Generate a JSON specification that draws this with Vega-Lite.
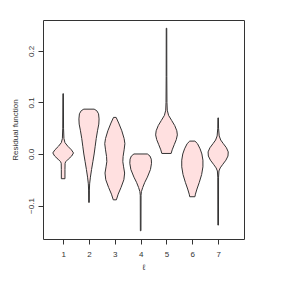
{
  "$schema": "https://vega.github.io/schema/vega-lite/v6.json",
  "autosize": {"type": "none"},
  "padding": {"left": 43, "top": 20, "right": 44, "bottom": 49},
  "width": 201,
  "height": 219,
  "config": {
    "view": {"stroke": "#333", "strokeWidth": 1},
    "font": "Liberation Sans"
  },
  "data": {
    "values": [
      {"g": 1, "v": 0.117, "lo": 0.99, "hi": 1.01},
      {"g": 1, "v": 0.05, "lo": 0.985, "hi": 1.015},
      {"g": 1, "v": 0.03, "lo": 0.97, "hi": 1.03},
      {"g": 1, "v": 0.022, "lo": 0.93, "hi": 1.07},
      {"g": 1, "v": 0.015, "lo": 0.82, "hi": 1.18},
      {"g": 1, "v": 0.008, "lo": 0.68, "hi": 1.32},
      {"g": 1, "v": 0.002, "lo": 0.6, "hi": 1.4},
      {"g": 1, "v": -0.004, "lo": 0.67, "hi": 1.33},
      {"g": 1, "v": -0.01, "lo": 0.8, "hi": 1.2},
      {"g": 1, "v": -0.015, "lo": 0.9, "hi": 1.1},
      {"g": 1, "v": -0.018, "lo": 0.925, "hi": 1.075},
      {"g": 1, "v": -0.03, "lo": 0.93, "hi": 1.07},
      {"g": 1, "v": -0.048, "lo": 0.93, "hi": 1.07},

      {"g": 2, "v": 0.087, "lo": 1.8, "hi": 2.2},
      {"g": 2, "v": 0.084, "lo": 1.7, "hi": 2.3},
      {"g": 2, "v": 0.078, "lo": 1.63, "hi": 2.37},
      {"g": 2, "v": 0.068, "lo": 1.61, "hi": 2.39},
      {"g": 2, "v": 0.058, "lo": 1.62, "hi": 2.38},
      {"g": 2, "v": 0.045, "lo": 1.67, "hi": 2.33},
      {"g": 2, "v": 0.03, "lo": 1.72, "hi": 2.28},
      {"g": 2, "v": 0.015, "lo": 1.76, "hi": 2.24},
      {"g": 2, "v": 0.0, "lo": 1.8, "hi": 2.2},
      {"g": 2, "v": -0.015, "lo": 1.85, "hi": 2.15},
      {"g": 2, "v": -0.03, "lo": 1.9, "hi": 2.1},
      {"g": 2, "v": -0.045, "lo": 1.945, "hi": 2.055},
      {"g": 2, "v": -0.058, "lo": 1.975, "hi": 2.025},
      {"g": 2, "v": -0.07, "lo": 1.985, "hi": 2.015},
      {"g": 2, "v": -0.094, "lo": 1.988, "hi": 2.012},

      {"g": 3, "v": 0.071, "lo": 2.95, "hi": 3.05},
      {"g": 3, "v": 0.06, "lo": 2.85, "hi": 3.15},
      {"g": 3, "v": 0.045, "lo": 2.73, "hi": 3.27},
      {"g": 3, "v": 0.03, "lo": 2.64, "hi": 3.36},
      {"g": 3, "v": 0.02, "lo": 2.61, "hi": 3.39},
      {"g": 3, "v": 0.008, "lo": 2.64, "hi": 3.36},
      {"g": 3, "v": -0.005, "lo": 2.68, "hi": 3.32},
      {"g": 3, "v": -0.015, "lo": 2.69, "hi": 3.31},
      {"g": 3, "v": -0.025, "lo": 2.66, "hi": 3.34},
      {"g": 3, "v": -0.037, "lo": 2.62, "hi": 3.38},
      {"g": 3, "v": -0.05, "lo": 2.65, "hi": 3.35},
      {"g": 3, "v": -0.065, "lo": 2.76, "hi": 3.24},
      {"g": 3, "v": -0.078, "lo": 2.87, "hi": 3.13},
      {"g": 3, "v": -0.089, "lo": 2.94, "hi": 3.06},

      {"g": 4, "v": 0.0, "lo": 3.74, "hi": 4.26},
      {"g": 4, "v": -0.004, "lo": 3.64, "hi": 4.36},
      {"g": 4, "v": -0.01, "lo": 3.59, "hi": 4.41},
      {"g": 4, "v": -0.018, "lo": 3.58, "hi": 4.42},
      {"g": 4, "v": -0.03, "lo": 3.62, "hi": 4.38},
      {"g": 4, "v": -0.045, "lo": 3.74, "hi": 4.26},
      {"g": 4, "v": -0.055, "lo": 3.84, "hi": 4.16},
      {"g": 4, "v": -0.065, "lo": 3.92, "hi": 4.08},
      {"g": 4, "v": -0.073, "lo": 3.97, "hi": 4.03},
      {"g": 4, "v": -0.08, "lo": 3.985, "hi": 4.015},
      {"g": 4, "v": -0.149, "lo": 3.988, "hi": 4.012},

      {"g": 5, "v": 0.244, "lo": 4.99, "hi": 5.01},
      {"g": 5, "v": 0.15, "lo": 4.988, "hi": 5.012},
      {"g": 5, "v": 0.1, "lo": 4.982, "hi": 5.018},
      {"g": 5, "v": 0.085, "lo": 4.97, "hi": 5.03},
      {"g": 5, "v": 0.075, "lo": 4.92, "hi": 5.08},
      {"g": 5, "v": 0.065, "lo": 4.8, "hi": 5.2},
      {"g": 5, "v": 0.055, "lo": 4.68, "hi": 5.32},
      {"g": 5, "v": 0.045, "lo": 4.6, "hi": 5.4},
      {"g": 5, "v": 0.037, "lo": 4.58, "hi": 5.42},
      {"g": 5, "v": 0.028, "lo": 4.62, "hi": 5.38},
      {"g": 5, "v": 0.018, "lo": 4.7, "hi": 5.3},
      {"g": 5, "v": 0.008, "lo": 4.78, "hi": 5.22},
      {"g": 5, "v": 0.001, "lo": 4.82, "hi": 5.18},

      {"g": 6, "v": 0.025, "lo": 5.9, "hi": 6.1},
      {"g": 6, "v": 0.02, "lo": 5.8, "hi": 6.2},
      {"g": 6, "v": 0.01, "lo": 5.7, "hi": 6.3},
      {"g": 6, "v": 0.0, "lo": 5.63, "hi": 6.37},
      {"g": 6, "v": -0.012, "lo": 5.59, "hi": 6.41},
      {"g": 6, "v": -0.025, "lo": 5.59, "hi": 6.41},
      {"g": 6, "v": -0.04, "lo": 5.64, "hi": 6.36},
      {"g": 6, "v": -0.055, "lo": 5.73, "hi": 6.27},
      {"g": 6, "v": -0.068, "lo": 5.82, "hi": 6.18},
      {"g": 6, "v": -0.078, "lo": 5.88, "hi": 6.12},
      {"g": 6, "v": -0.083, "lo": 5.9, "hi": 6.1},

      {"g": 7, "v": 0.07, "lo": 6.99, "hi": 7.01},
      {"g": 7, "v": 0.05, "lo": 6.985, "hi": 7.015},
      {"g": 7, "v": 0.035, "lo": 6.96, "hi": 7.04},
      {"g": 7, "v": 0.027, "lo": 6.9, "hi": 7.1},
      {"g": 7, "v": 0.02, "lo": 6.8, "hi": 7.2},
      {"g": 7, "v": 0.012, "lo": 6.68, "hi": 7.32},
      {"g": 7, "v": 0.004, "lo": 6.61, "hi": 7.39},
      {"g": 7, "v": -0.004, "lo": 6.62, "hi": 7.38},
      {"g": 7, "v": -0.012, "lo": 6.7, "hi": 7.3},
      {"g": 7, "v": -0.02, "lo": 6.82, "hi": 7.18},
      {"g": 7, "v": -0.027, "lo": 6.92, "hi": 7.08},
      {"g": 7, "v": -0.033, "lo": 6.97, "hi": 7.03},
      {"g": 7, "v": -0.045, "lo": 6.985, "hi": 7.015},
      {"g": 7, "v": -0.138, "lo": 6.988, "hi": 7.012}
    ]
  },
  "mark": {
    "type": "area",
    "orient": "horizontal",
    "fill": "#FFE0E0",
    "stroke": "#333333",
    "strokeWidth": 1,
    "interpolate": "linear"
  },
  "encoding": {
    "y": {
      "field": "v",
      "type": "quantitative",
      "scale": {"domain": [-0.165, 0.26], "nice": false, "zero": false},
      "axis": {
        "values": [-0.1, 0.0, 0.1, 0.2],
        "format": ".1f",
        "title": "Residual function",
        "titleFontSize": 8,
        "titleFontWeight": "normal",
        "titleColor": "#333",
        "titlePadding": 8,
        "labelAngle": -90,
        "labelAlign": "center",
        "labelBaseline": "bottom",
        "labelFontSize": 8,
        "labelColor": "#333",
        "labelPadding": 3,
        "tickSize": 5,
        "tickColor": "#333",
        "domain": false,
        "grid": false
      }
    },
    "x": {
      "field": "lo",
      "type": "quantitative",
      "scale": {"domain": [0.22, 8.0], "nice": false, "zero": false},
      "axis": {
        "values": [1, 2, 3, 4, 5, 6, 7],
        "format": "d",
        "title": "ℓ",
        "titleFontSize": 8,
        "titleFontWeight": "normal",
        "titleColor": "#333",
        "titlePadding": 5,
        "labelFontSize": 8,
        "labelColor": "#333",
        "labelPadding": 6,
        "tickSize": 5,
        "tickColor": "#333",
        "domain": false,
        "grid": false
      }
    },
    "x2": {"field": "hi"},
    "detail": {"field": "g", "type": "nominal"}
  }
}
